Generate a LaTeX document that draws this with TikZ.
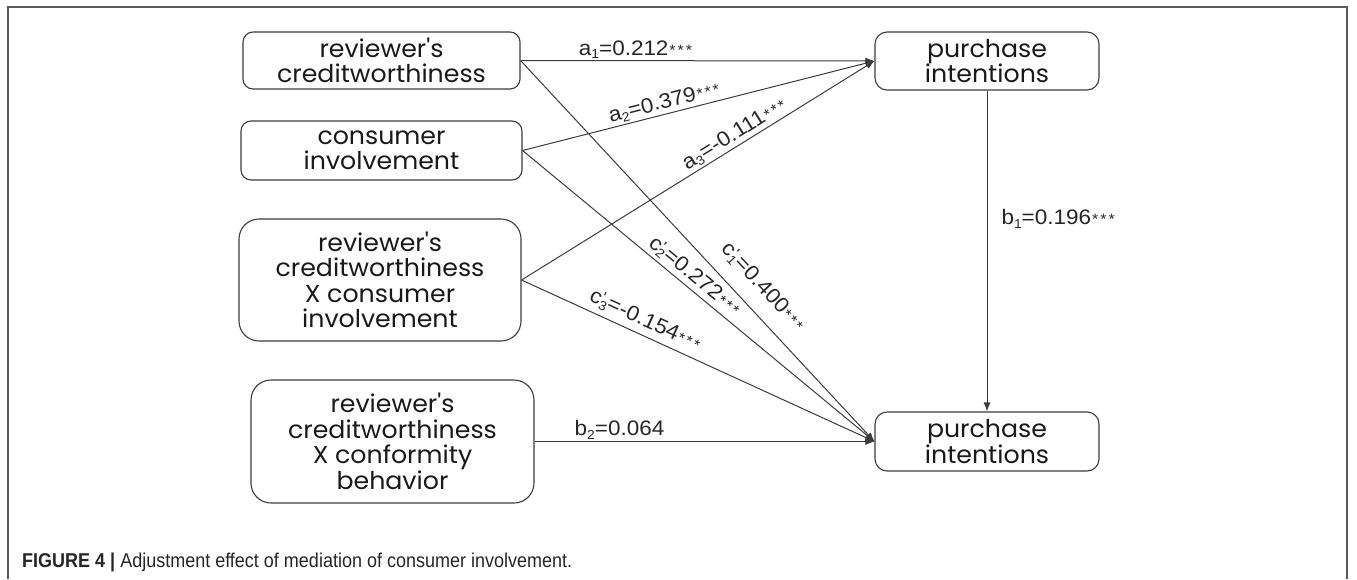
\documentclass[tikz,border=0pt]{standalone}
\usepackage{fontspec}
\defaultfontfeatures{}
\newfontfamily\boxfont[FakeStretch=1.03]{Poppins}
\newfontfamily\labelfont[FakeStretch=1.07]{Liberation Sans}
\newfontfamily\capfont[FakeStretch=0.9]{Liberation Sans}
\usetikzlibrary{arrows.meta}
\definecolor{linegray}{HTML}{3C3C3C}
\definecolor{framegray}{HTML}{5A5A5A}
\newcommand{\sbs}[1]{\raisebox{-0.15em}{\fontsize{13}{13}\selectfont #1}}
\newcommand{\stars}{{\fontsize{15}{15}\selectfont\kern1pt*\kern2pt*\kern2pt*}}
\newcommand{\cpr}[1]{c\rlap{\raisebox{0.2em}{\fontsize{15}{15}\selectfont '}}\sbs{#1}}

\begin{document}
\begin{tikzpicture}[x=1pt, y=-1pt,
        varbox/.style={draw=linegray, line width=1.1pt, rounded corners=10pt, align=center, text=black!90, font=\boxfont\fontsize{24.5}{25.5}\selectfont},
        effect/.style={draw=linegray, line width=1pt, -{Latex[length=9pt, width=7pt]}},
        coef/.style={inner sep=2pt, text=black!85, font=\labelfont\fontsize{21}{21}\selectfont}]
        \useasboundingbox (0,0) rectangle (1357,579);
        \draw[framegray, line width=1.2pt] (8,579) -- (8,7) -- (1347,7) -- (1347,579);

        \node (credit) [varbox, minimum width=277pt, minimum height=57pt] at (381.5,60.5) {reviewer's\\creditworthiness};
        \node (involvement) [varbox, minimum width=281pt, minimum height=59pt] at (381.5,150.5) {consumer\\involvement};
        \node (credit_involvement) [varbox, rounded corners=20pt, minimum width=282pt, minimum height=122pt] at (380,280) {reviewer's\\creditworthiness\\X consumer\\involvement};
        \node (credit_conformity) [varbox, rounded corners=20pt, minimum width=283pt, minimum height=123pt] at (392.5,441.5) {reviewer's\\creditworthiness\\X conformity\\behavior};
        \node (intention_top) [varbox, rounded corners=12pt, minimum width=224pt, minimum height=58pt] at (987,61) {purchase\\intentions};
        \node (intention_bottom) [varbox, rounded corners=12pt, minimum width=224pt, minimum height=59pt] at (987,441.5) {purchase\\intentions};

        \draw[effect] (credit.east) -- node[coef, above, pos=0.325] {a\sbs{1}=0.212\stars} (intention_top.west);
        \draw[effect] (involvement.east) -- node[coef, above, sloped, pos=0.41] {a\sbs{2}=0.379\stars} (intention_top.west);
        \draw[effect] (credit_involvement.east) -- node[coef, above, sloped, pos=0.62] {a\sbs{3}=-0.111\stars} (intention_top.west);
        \draw[effect] (credit.east) -- node[coef, above=12pt, sloped, pos=0.636] {\cpr{1}=0.400\stars} (intention_bottom.west);
        \draw[effect] (involvement.east) -- node[coef, above=1pt, sloped, pos=0.466] {\cpr{2}=0.272\stars} (intention_bottom.west);
        \draw[effect] (credit_involvement.east) -- node[coef, above=3pt, sloped, pos=0.333] {\cpr{3}=-0.154\stars} (intention_bottom.west);
        \draw[effect] (credit_conformity.east) -- node[coef, above, pos=0.25] {b\sbs{2}=0.064} (intention_bottom.west);
        \draw[effect] (intention_top.south) -- node[coef, right=12pt, pos=0.40] {b\sbs{1}=0.196\stars} (intention_bottom.north);

        \node (caption) [anchor=base west, inner sep=0pt, text=black!85, font=\capfont\fontsize{20}{20}\selectfont] at (22,567) {\textbf{FIGURE 4 |} Adjustment effect of mediation of consumer involvement.};
\end{tikzpicture}
\end{document}
